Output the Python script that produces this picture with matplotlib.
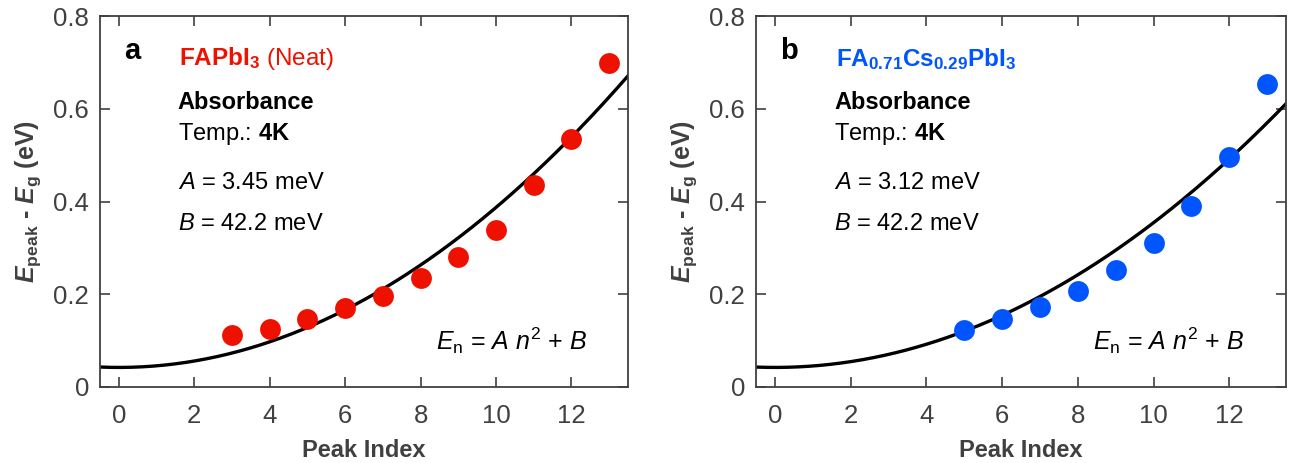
import matplotlib.pyplot as plt
import numpy as np

plt.rcParams['font.family'] = ['Liberation Sans', 'DejaVu Sans']
plt.rcParams['mathtext.fontset'] = 'custom'
plt.rcParams['mathtext.rm'] = 'Liberation Sans'
plt.rcParams['mathtext.it'] = 'Liberation Sans:italic'
plt.rcParams['mathtext.bf'] = 'Liberation Sans:bold'
plt.rcParams['mathtext.bfit'] = 'Liberation Sans:bold:italic'

# Peak energies above the gap (eV)
n_neat = [3, 4, 5, 6, 7, 8, 9, 10, 11, 12, 13]
e_neat = [0.112, 0.126, 0.146, 0.170, 0.197, 0.234, 0.280, 0.339, 0.435, 0.535, 0.699]
n_cs = [5, 6, 7, 8, 9, 10, 11, 12, 13]
e_cs = [0.123, 0.146, 0.173, 0.208, 0.252, 0.310, 0.390, 0.497, 0.653]

# Fit parameters (meV)
fit_A = [3.45, 3.12]
fit_B = [42.2, 42.2]

red = '#EE1100'
blue = '#0055FF'
gray = '#404040'

fig = plt.figure(figsize=(12.91, 4.63), dpi=100)
ax1 = fig.add_axes([100 / 1291, 1 - 387 / 463, 528 / 1291, 371 / 463])
ax2 = fig.add_axes([756 / 1291, 1 - 387 / 463, 530 / 1291, 371 / 463])

panels = [
    (ax1, n_neat, e_neat, red, 'a', fit_A[0], fit_B[0]),
    (ax2, n_cs, e_cs, blue, 'b', fit_A[1], fit_B[1]),
]

for ax, n, e, col, letter, A, B in panels:
    xs = np.linspace(-0.5, 13.5, 200)
    ax.plot(xs, B / 1000 + A / 1000 * xs ** 2, color='black', lw=2.4, zorder=2)
    ax.plot(n, e, 'o', color=col, ms=15, mec='none', zorder=3)

    ax.set_xlim(-0.5, 13.5)
    ax.set_ylim(0, 0.8)
    ax.set_xticks([0, 2, 4, 6, 8, 10, 12])
    ax.set_yticks([0, 0.2, 0.4, 0.6, 0.8])
    ax.set_yticklabels(['0', '0.2', '0.4', '0.6', '0.8'])
    ax.tick_params(direction='in', length=7, width=1.2, top=True, right=True,
                   labelsize=18.5, colors=gray, labelcolor=gray)
    ax.tick_params(axis='x', pad=12)
    ax.tick_params(axis='y', pad=8)
    for s in ax.spines.values():
        s.set_color(gray)
        s.set_linewidth(1.3)

    ax.set_xlabel('Peak Index', fontsize=17, fontweight='bold', color=gray, labelpad=8)
    ax.set_ylabel(r'$\mathbfit{E}_{\mathbf{peak}}$ - $\mathbfit{E}_{\mathbf{g}}$ (eV)',
                  fontsize=18, fontweight='bold', color=gray, labelpad=7)

    ax.text(0.045, 0.905, letter, transform=ax.transAxes, fontsize=21,
            fontweight='bold', va='center')
    ax.text(0.147, 0.766, 'Absorbance', transform=ax.transAxes, fontsize=17,
            fontweight='bold', va='center')
    ax.text(0.147, 0.682, r'Temp.: $\mathbf{4K}$', transform=ax.transAxes,
            fontsize=17, va='center')
    ax.text(0.147, 0.55, r'$A$ = %.2f meV' % A, transform=ax.transAxes,
            fontsize=17, va='center')
    ax.text(0.147, 0.44, r'$B$ = %.1f meV' % B, transform=ax.transAxes,
            fontsize=17, va='center')
    ax.text(0.636, 0.125, r'$E_{\rm n}$ = $A$ $n^2$ + $B$', transform=ax.transAxes,
            fontsize=18, va='center')

ax1.text(0.150, 0.885, r'$\mathbf{FAPbI_3}$ (Neat)', transform=ax1.transAxes,
         fontsize=17.5, color=red, va='center')
ax2.text(0.150, 0.885, r'$\mathbf{FA_{0.71}Cs_{0.29}PbI_3}$', transform=ax2.transAxes,
         fontsize=17.5, color=blue, va='center')

fig.savefig('out.png', dpi=100)
